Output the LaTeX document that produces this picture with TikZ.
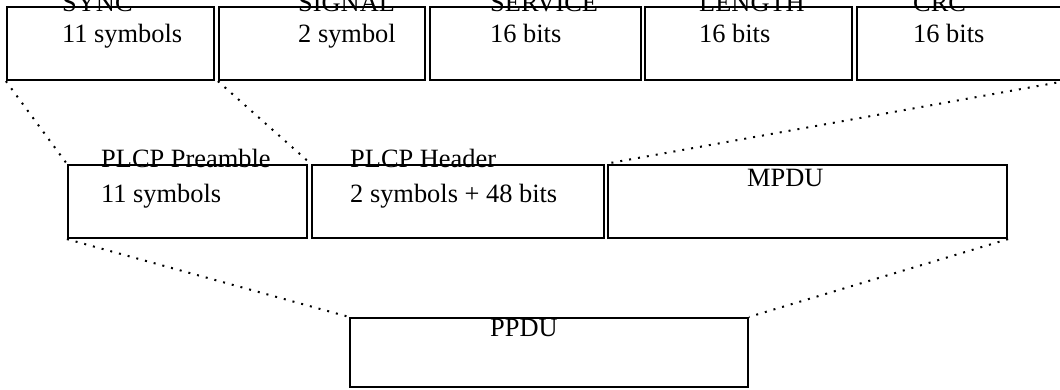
\documentclass[tikz,border=0pt]{standalone}
\usepackage{fontspec}
\setmainfont{Liberation Serif}
\begin{document}
\begin{tikzpicture}[x=1pt, y=-1pt,
  box/.style={draw, rectangle, line width=2.2pt, inner sep=0pt, minimum height=73pt},
  txt/.style={anchor=base west, inner sep=0pt, align=left, font=\fontsize{26.4}{31}\selectfont},
  link/.style={line width=2pt, dash pattern=on 2pt off 7pt}]
  \useasboundingbox (0,0) rectangle (1060,389);

  % header fields
  \foreach \n/\cx/\w/\tx/\head/\body in {sync/110.5/207/62/SYNC/11 symbols,
      signal/322/206/298/SIGNAL/2 symbol, service/535.5/211/490/SERVICE/16 bits,
      length/748.5/207/699/LENGTH/16 bits, crc/960.5/207/913/CRC/16 bits} {
    \node[box, minimum width=\w pt] (\n) at (\cx,43.5) {};
    \node[txt] (\n-txt) at (\tx,42) {\head\\\body};
  }

  % PLCP frame
  \node[box, minimum width=239pt] (preamble) at (187.5,201.5) {};
  \node[box, minimum width=292pt] (header) at (458,201.5) {};
  \node[box, minimum width=399pt] (mpdu) at (807.5,201.5) {};
  \node[txt] (preamble-txt) at (101,202) {PLCP Preamble\\[4pt]11 symbols};
  \node[txt] (header-txt) at (350,202) {PLCP Header\\[4pt]2 symbols + 48 bits};
  \node[txt] (mpdu-txt) at (747,186) {MPDU};

  \node[box, minimum width=398pt, minimum height=69pt] (ppdu) at (549,352.5) {};
  \node[txt] (ppdu-txt) at (490,336) {PPDU};

  \draw[link] (sync.south west) -- (preamble.north west);
  \draw[link] (signal.south west) -- (header.north west);
  \draw[link] (crc.south east) -- (header.north east);
  \draw[link] (preamble.south west) -- (ppdu.north west);
  \draw[link] (mpdu.south east) -- (ppdu.north east);
\end{tikzpicture}
\end{document}
